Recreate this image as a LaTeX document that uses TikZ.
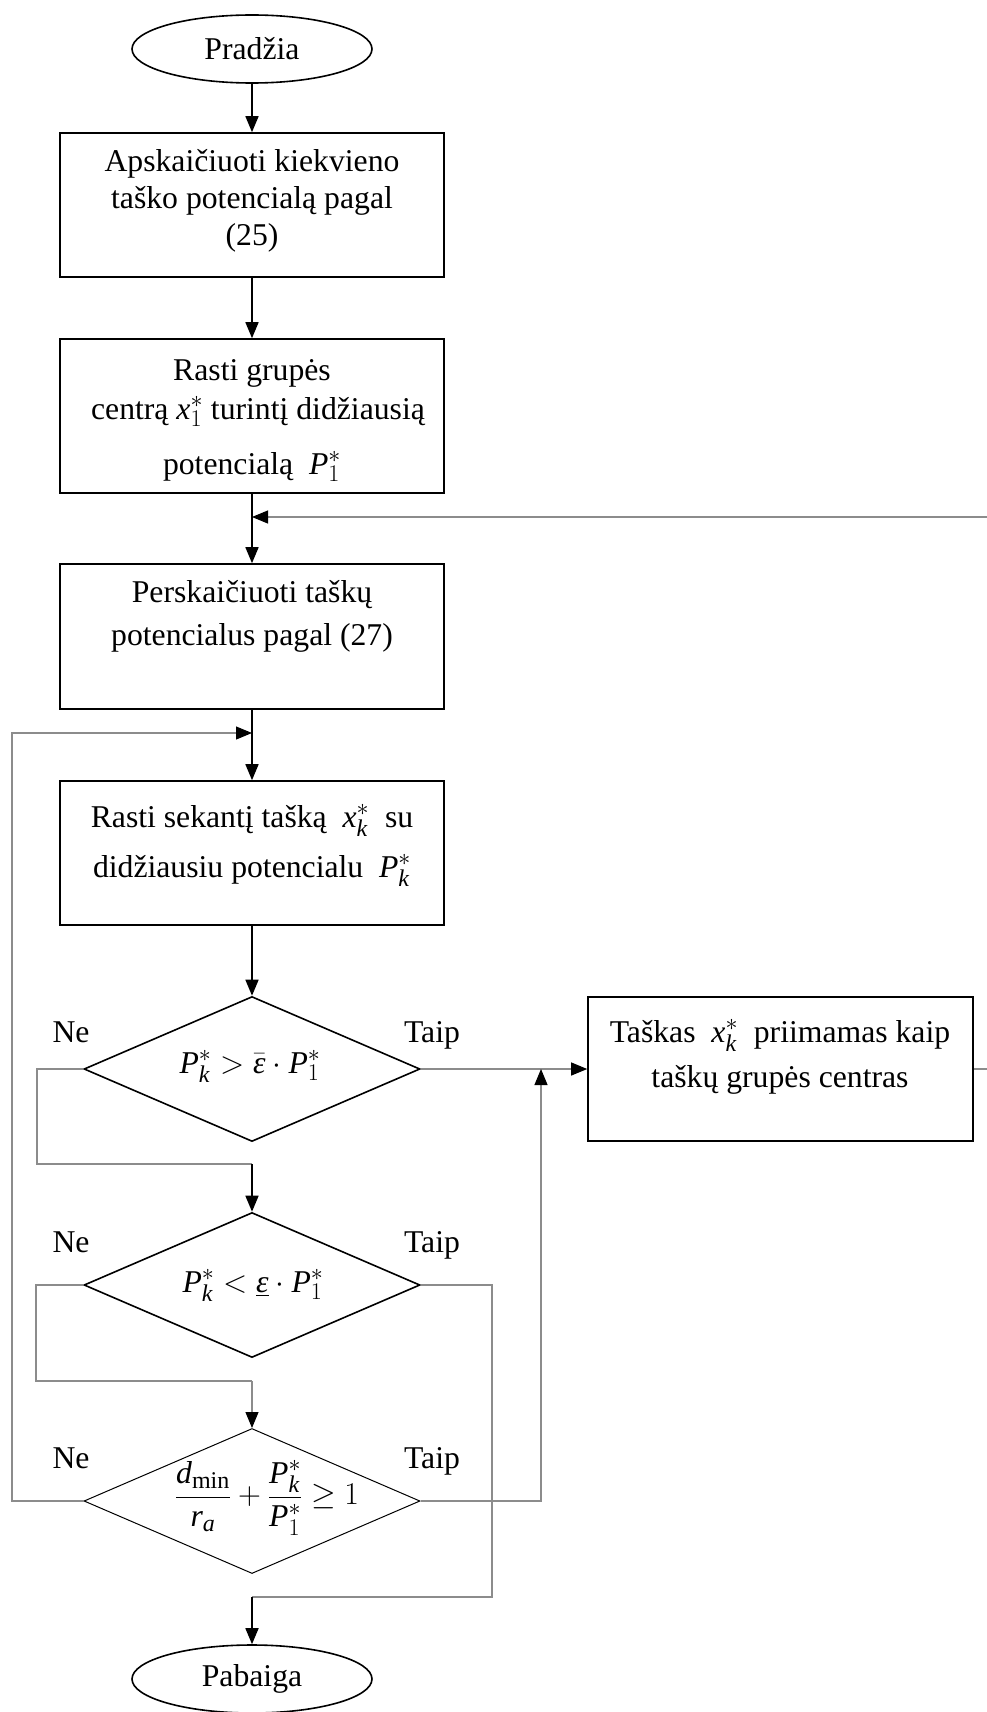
\documentclass[tikz,border=0pt]{standalone}
\usepackage{fix-cm}
\usepackage{amsmath}
\usepackage{fontspec}
\setmainfont{Liberation Serif}
\DeclareMathSizes{31.7}{31.7}{24}{18}
\usetikzlibrary{shapes.geometric,arrows.meta}
\newcommand{\mi}[1]{\mathit{#1}}
\newcommand{\eps}{\text{\itshape ε}}
\begin{document}
\begin{tikzpicture}[x=1pt,y=-1pt,
  every node/.style={font=\fontsize{31.7}{37}\selectfont},
  box/.style={draw, line width=1.6pt, minimum width=384pt, inner sep=0pt},
  term/.style={draw, ellipse, line width=1.6pt, minimum width=240pt, minimum height=68pt, inner sep=0pt},
  dec/.style={draw, diamond, line width=1.6pt, minimum width=336pt, minimum height=145pt, inner sep=0pt},
  txt/.style={anchor=base, inner sep=0pt},
  flow/.style={line width=1.6pt, -{Triangle[length=16pt,width=13pt]}},
  loopline/.style={line width=1.1pt, black!45},
  tipblack/.style={-{Triangle[length=16pt,width=13pt,color=black,fill=black]}},
]
\useasboundingbox (0,0) rectangle (986,1712);

\node[term] (start) at (252,49) {Pradžia};

\node[box, minimum height=144pt] (b1) at (252,205) {};
\node[txt] (b1a) at (252,172) {Apskaičiuoti kiekvieno};
\node[txt] (b1b) at (252,209) {taško potencialą pagal};
\node[txt] (b1c) at (252,246) {(25)};

\node[box, minimum height=154pt] (b2) at (252,416) {};
\node[txt] (b2a) at (252,380) {Rasti grupės};
\node[txt] (b2b) at (258,419) {centrą $\mi{x}_{1}^{*}$ turintį didžiausią};
\node[txt] (b2c) at (252,474) {potencialą \ $\mi{P}_{1}^{*}$};

\node[box, minimum height=145pt] (b3) at (252,636.5) {};
\node[txt] (b3a) at (252,602) {Perskaičiuoti taškų};
\node[txt] (b3b) at (252,645) {potencialus pagal (27)};

\node[box, minimum height=144pt] (b4) at (252,853) {};
\node[txt] (b4a) at (252,827) {Rasti sekantį tašką \ $\mi{x}_{\mi{k}}^{*}$ \ su};
\node[txt] (b4b) at (252,877) {didžiausiu potencialu \ $\mi{P}_{\mi{k}}^{*}$};

\node[dec] (d1) at (252,1069) {};
\node[txt] (f1) at (250,1073) {$\mi{P}_{\mi{k}}^{*} > \bar{\eps}\cdot \mi{P}_{1}^{*}$};
\node[txt] (n1) at (71,1042) {Ne};
\node[txt] (y1) at (432,1042) {Taip};

\node[box, minimum width=385pt, minimum height=144pt] (b5) at (780.5,1069) {};
\node[txt] (b5a) at (780,1042) {Taškas \ $\mi{x}_{\mi{k}}^{*}$ \ priimamas kaip};
\node[txt] (b5b) at (780,1087) {taškų grupės centras};

\node[dec] (d2) at (252,1285) {};
\node[txt] (f2) at (253,1292) {$\mi{P}_{\mi{k}}^{*} < \underline{\eps}\cdot \mi{P}_{1}^{*}$};
\node[txt] (n2) at (71,1252) {Ne};
\node[txt] (y2) at (432,1252) {Taip};

\node[dec, line width=1pt] (d3) at (252,1501) {};
\node[anchor=center, inner sep=0pt] (f3) at (267,1498) {$\dfrac{\mi{d}_{\mathrm{min}}}{\mi{r}_{\mi{a}}} + \dfrac{\mi{P}_{\mi{k}}^{*}}{\mi{P}_{1}^{*}} \geq 1$};
\node[txt] (n3) at (71,1468) {Ne};
\node[txt] (y3) at (432,1468) {Taip};

\node[term] (end) at (252,1679) {Pabaiga};

% main flow
\draw[flow] (start) -- (b1);
\draw[flow] (b1) -- (b2);
\draw[flow] (b2) -- (b3);
\draw[flow] (b3) -- (b4);
\draw[flow] (b4) -- (d1);

% junction coordinates
\coordinate (j1) at (252,517);
\coordinate (j2) at (252,733);
\coordinate (j3) at (541,1069);
\coordinate (c1a) at (37,1164);
\coordinate (c1) at (252,1164);
\coordinate (c2a) at (36,1381);
\coordinate (c2) at (252,1381);
\coordinate (c3a) at (492,1597);
\coordinate (c3) at (252,1597);
\coordinate (r1) at (993,1069);

% loops
\draw[loopline, tipblack] (b5.east) -- (r1) |- (j1);
\draw[loopline, tipblack] (d3.west) -- (12,1501) |- (j2);
\draw[loopline, tipblack] (d1.east) -- (b5.west);
\draw[loopline, tipblack] (d3.east) -| (j3);
\draw[loopline] (d1.west) -| (c1a) -- (c1);
\draw[flow] (c1) -- (d2);
\draw[loopline] (d2.west) -| (c2a) -- (c2);
\draw[loopline, tipblack] (c2) -- (d3);
\draw[loopline] (d2.east) -| (c3a) -- (c3);
\draw[flow] (c3) -- (end);
\end{tikzpicture}
\end{document}
